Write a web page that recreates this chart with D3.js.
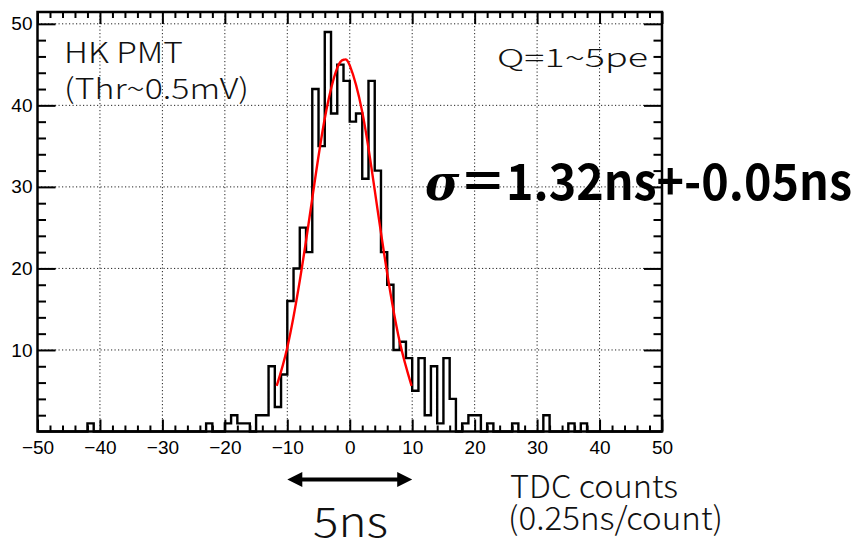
<!DOCTYPE html>
<html lang="en">
<head>
<meta charset="utf-8">
<title>HK PMT TDC</title>
<script src="https://cdn.jsdelivr.net/npm/d3@7"></script>
<style>
  body { margin: 0; background: #fff; }
  svg { display: block; }
</style>
</head>
<body>
<script>

// one bin per TDC count, first bin starts at -50
var binStart = -50
var counts = [
  0, 0, 0, 0, 0, 0, 0, 0, 1, 0,      // -50 .. -41
  0, 0, 0, 0, 0, 0, 0, 0, 0, 0,      // -40 .. -31
  0, 0, 0, 0, 0, 0, 0, 1, 0, 0,      // -30 .. -21
  1, 2, 1, 1, 0, 2, 2, 8, 3, 7,      // -20 .. -11
  16, 20, 25, 22, 42, 35, 49, 39, 45, 43,   // -10 .. -1
  38, 39, 31, 43, 32, 22, 18, 10, 11, 9,    // 0 .. 9
  5, 9, 2, 8, 1, 9, 4, 0, 1, 2,      // 10 .. 19
  2, 0, 1, 0, 0, 0, 1, 0, 0, 0,      // 20 .. 29
  0, 2, 0, 0, 0, 1, 0, 1, 0, 0,      // 30 .. 39
  0, 0, 0, 0, 0, 0, 0, 0, 0, 0       // 40 .. 49
]

// gaussian fit
var fitX = [-11.7, -10, -8, -6, -4, -2, -0.9, 0, 2, 4, 6, 8, 9.9]
var fitY = [5.6, 10.3, 18.5, 28.6, 38.4, 44.6, 45.6, 44.9, 39.2, 29.6, 19.4, 11.0, 5.6]

var xMajor = [-50, -40, -30, -20, -10, 0, 10, 20, 30, 40, 50]
var xGrid = [-40, -30, -20, -10, 0, 10, 20, 30, 40]
var yMajor = [10, 20, 30, 40, 50]
var yMax = 51.45

// 5 ns = 20 TDC counts
var arrowSpan = [-10, 10]

var width = 859, height = 544
var fLeft = 37.5, fRight = 662, fTop = 12, fBottom = 431.5

var svg = d3.select("body").append("svg")
  .attr("width", width)
  .attr("height", height)

var x = d3.scaleLinear().domain([-50, 50]).range([fLeft, fRight])
var y = d3.scaleLinear().domain([0, yMax]).range([fBottom, fTop])

var xMinor = d3.range(-50, 51, 2).filter(function(v) { return v % 10 != 0 })
var yMinor = d3.range(0, 51, 2).filter(function(v) { return v % 10 != 0 })

// dotted grid
var grid = svg.append("g")
  .attr("stroke", "#222")
  .attr("stroke-width", 1)
  .attr("stroke-dasharray", "1.2,2.3")
grid.selectAll("line.gx").data(xGrid).enter().append("line")
  .attr("x1", d => x(d)).attr("x2", d => x(d))
  .attr("y1", fTop).attr("y2", fBottom)
grid.selectAll("line.gy").data(yMajor).enter().append("line")
  .attr("x1", fLeft).attr("x2", fRight)
  .attr("y1", d => y(d)).attr("y2", d => y(d))

// histogram outline
var steps = counts.map(function(c, i) { return [binStart + i, c] })
steps.push([binStart + counts.length, counts[counts.length - 1]])

var hist = d3.line()
  .x(d => x(d[0]))
  .y(d => y(d[1]))
  .curve(d3.curveStepAfter)

svg.append("path")
  .datum(steps)
  .attr("fill", "none")
  .attr("stroke", "#000")
  .attr("stroke-width", 2.4)
  .attr("d", hist)

// fit curve
var fit = d3.line()
  .x(d => x(d[0]))
  .y(d => y(d[1]))
  .curve(d3.curveNatural)

svg.append("path")
  .datum(fitX.map((v, i) => [v, fitY[i]]))
  .attr("fill", "none")
  .attr("stroke", "#ff0000")
  .attr("stroke-width", 2.4)
  .attr("d", fit)

// axes
function styleAxis(g) {
  g.select(".domain").remove()
  g.selectAll(".tick line").attr("stroke", "#000").attr("stroke-width", 2)
  g.selectAll("text")
    .attr("fill", "#000")
    .style("font-family", "'Liberation Sans', Arial, sans-serif")
    .style("font-size", "19px")
}

svg.append("g").attr("transform", "translate(0," + fBottom + ")")
  .call(d3.axisBottom(x).tickValues(xMajor).tickSize(-12).tickPadding(9))
  .call(styleAxis)
svg.append("g").attr("transform", "translate(0," + fBottom + ")")
  .call(d3.axisBottom(x).tickValues(xMinor).tickSize(-6).tickFormat(""))
  .call(styleAxis)
svg.append("g").attr("transform", "translate(0," + fTop + ")")
  .call(d3.axisTop(x).tickValues(xMajor).tickSize(-12).tickFormat(""))
  .call(styleAxis)
svg.append("g").attr("transform", "translate(0," + fTop + ")")
  .call(d3.axisTop(x).tickValues(xMinor).tickSize(-6).tickFormat(""))
  .call(styleAxis)

svg.append("g").attr("transform", "translate(" + fLeft + ",0)")
  .call(d3.axisLeft(y).tickValues(yMajor).tickSize(-18).tickPadding(5))
  .call(styleAxis)
svg.append("g").attr("transform", "translate(" + fLeft + ",0)")
  .call(d3.axisLeft(y).tickValues(yMinor).tickSize(-8.5).tickFormat(""))
  .call(styleAxis)
svg.append("g").attr("transform", "translate(" + fRight + ",0)")
  .call(d3.axisRight(y).tickValues(yMajor).tickSize(-18).tickFormat(""))
  .call(styleAxis)
svg.append("g").attr("transform", "translate(" + fRight + ",0)")
  .call(d3.axisRight(y).tickValues(yMinor).tickSize(-8.5).tickFormat(""))
  .call(styleAxis)

// frame
svg.append("rect")
  .attr("x", fLeft).attr("y", fTop)
  .attr("width", fRight - fLeft).attr("height", fBottom - fTop)
  .attr("fill", "none")
  .attr("stroke", "#000")
  .attr("stroke-width", 2.5)

// annotations
var jp = "'Noto Sans CJK JP', 'Noto Sans', sans-serif"

function label(txt, px, py, size, len, weight) {
  return svg.append("text")
    .attr("x", px).attr("y", py)
    .attr("fill", "#111")
    .attr("textLength", len)
    .attr("lengthAdjust", "spacingAndGlyphs")
    .style("font-family", jp)
    .style("font-size", size + "px")
    .style("font-weight", weight || 300)
    .text(txt)
}

label("HK PMT", 64, 63, 28, 119)
label("(Thr~0.5mV)", 64, 99, 28, 185)
label("Q=1~5pe", 497, 67, 25, 151)
label("TDC counts", 510, 498, 32, 168)
label("(0.25ns/count)", 508, 530, 32, 215)
label("5ns", 313, 537, 41, 75)

var sig = svg.append("text")
  .attr("x", 425).attr("y", 200)
  .attr("fill", "#000")
  .attr("textLength", 427)
  .attr("lengthAdjust", "spacingAndGlyphs")
  .style("font-family", jp)
  .style("font-size", "50px")
  .style("font-weight", 700)
sig.append("tspan")
  .style("font-family", "'DejaVu Serif', 'Liberation Serif', serif")
  .style("font-style", "italic")
  .text("σ")
sig.append("tspan").text("＝1.32ns+-0.05ns")

// 5 ns double arrow
var ay = 479.5, head = 15, hw = 7.5
var a0 = x(arrowSpan[0]), a1 = x(arrowSpan[1])
svg.append("line")
  .attr("x1", a0 + head - 2).attr("x2", a1 - head + 2)
  .attr("y1", ay).attr("y2", ay)
  .attr("stroke", "#000").attr("stroke-width", 4)
svg.append("path")
  .attr("fill", "#000")
  .attr("d", "M" + a0 + "," + ay + "L" + (a0 + head) + "," + (ay - hw) + "L" + (a0 + head) + "," + (ay + hw) + "Z"
    + "M" + a1 + "," + ay + "L" + (a1 - head) + "," + (ay - hw) + "L" + (a1 - head) + "," + (ay + hw) + "Z")

</script>
</body>
</html>
